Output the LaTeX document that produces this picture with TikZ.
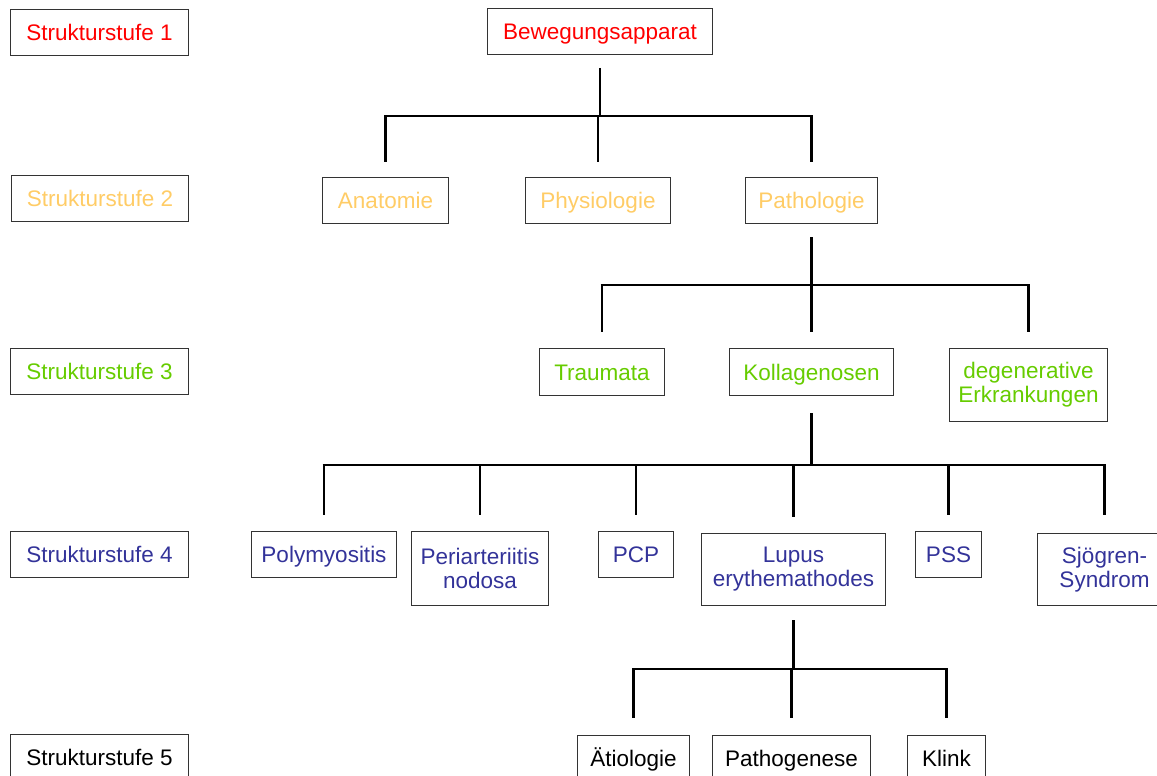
\documentclass[tikz,border=0pt]{standalone}
\usepackage{fontspec}
\setmainfont{Liberation Sans}
\definecolor{cred}{RGB}{255,0,0}
\definecolor{corange}{RGB}{255,204,102}
\definecolor{cgreen}{RGB}{102,204,0}
\definecolor{cblue}{RGB}{51,51,153}
\begin{document}
\begin{tikzpicture}[x=1pt,y=-1pt,
  box/.style={draw=black!80, line width=1pt, inner sep=0pt, align=center, anchor=north west,
    font=\fontsize{22.5}{24}\selectfont},
  one/.style={box, text height=21pt, text depth=5pt},
  conn/.style={line width=2.6pt, line cap=butt}]
\useasboundingbox (0,0) rectangle (1157,776);
% level labels
\node[one, text=cred, minimum width=178pt, minimum height=46pt] (s1) at (10,9) {Strukturstufe 1};
\node[one, text=corange, minimum width=177pt, minimum height=46pt] (s2) at (11,175) {Strukturstufe 2};
\node[one, text=cgreen, minimum width=178pt, minimum height=46pt] (s3) at (10,348) {Strukturstufe 3};
\node[one, text=cblue, minimum width=178pt, minimum height=46pt] (s4) at (10,531) {Strukturstufe 4};
\node[one, text=black, minimum width=178pt, minimum height=46pt] (s5) at (10,734) {Strukturstufe 5};
% level 1
\node[one, text=cred, minimum width=225pt, minimum height=46pt] (bew) at (487,8) {Bewegungsapparat};
% level 2
\node[one, text=corange, minimum width=126pt, minimum height=46pt] (ana) at (322,177) {Anatomie};
\node[one, text=corange, minimum width=145pt, minimum height=46pt] (phy) at (525,177) {Physiologie};
\node[one, text=corange, minimum width=132pt, minimum height=46pt] (pat) at (745,177) {Pathologie};
% level 3
\node[one, text=cgreen, minimum width=125pt, minimum height=47pt] (tra) at (539,348) {Traumata};
\node[one, text=cgreen, minimum width=164pt, minimum height=47pt] (kol) at (729,348) {Kollagenosen};
\node[box, text=cgreen, minimum width=158pt, minimum height=73pt] (deg) at (949,348) {degenerative\\Erkrankungen};
% level 4
\node[one, text=cblue, minimum width=145pt, minimum height=46pt] (pol) at (251,531) {Polymyositis};
\node[box, text=cblue, minimum width=137pt, minimum height=74pt] (per) at (411,531) {Periarteriitis\\nodosa};
\node[one, text=cblue, minimum width=75pt, minimum height=46pt] (pcp) at (598,531) {PCP};
\node[box, text=cblue, minimum width=184pt, minimum height=72pt] (lup) at (701,533) {Lupus\\erythemathodes};
\node[one, text=cblue, minimum width=66pt, minimum height=46pt] (pss) at (915,531) {PSS};
\node[box, text=cblue, minimum width=134pt, minimum height=72pt] (sjo) at (1037,533) {Sjögren-\\Syndrom};
% level 5
\node[one, text=black, minimum width=112pt, minimum height=46pt] (aet) at (577,735) {Ätiologie};
\node[one, text=black, minimum width=158pt, minimum height=46pt] (pge) at (712,735) {Pathogenese};
\node[one, text=black, minimum width=78pt, minimum height=46pt] (kli) at (907,735) {Klink};
% connectors
\coordinate (b1) at (0,116);
\coordinate (b2) at (0,285);
\coordinate (b3) at (0,465);
\coordinate (b4) at (0,669);
% tree 1
\draw[conn] ([yshift=-13pt]bew.south) -- (bew.south |- b1);
\draw[conn] ([xshift=-1.3pt]ana.north |- b1) -- ([xshift=1.3pt]pat.north |- b1);
\foreach \n in {ana,phy,pat} \draw[conn] (\n.north |- b1) -- ([yshift=15pt]\n.north);
% tree 2
\draw[conn] ([yshift=-13pt]pat.south) -- (pat.south |- b2);
\draw[conn] ([xshift=-1.3pt]tra.north |- b2) -- ([xshift=1.3pt]deg.north |- b2);
\foreach \n in {tra,kol,deg} \draw[conn] (\n.north |- b2) -- ([yshift=16pt]\n.north);
% tree 3
\draw[conn] ([yshift=-17pt]kol.south) -- (kol.south |- b3);
\draw[conn] ([xshift=-1.3pt]pol.north |- b3) -- ([xshift=1.3pt]sjo.north |- b3);
\foreach \n in {pol,per,pcp,lup,pss} \draw[conn] (\n.north |- b3) -- ([yshift=16pt]\n.north);
\draw[conn] (sjo.north |- b3) -- ([yshift=18pt]sjo.north);
% tree 4
\draw[conn] ([yshift=-14pt]lup.south) -- (lup.south |- b4);
\draw[conn] ([xshift=-1.3pt]aet.north |- b4) -- ([xshift=1.3pt]kli.north |- b4);
\foreach \n in {aet,pge,kli} \draw[conn] (\n.north |- b4) -- ([yshift=17pt]\n.north);
\end{tikzpicture}
\end{document}
